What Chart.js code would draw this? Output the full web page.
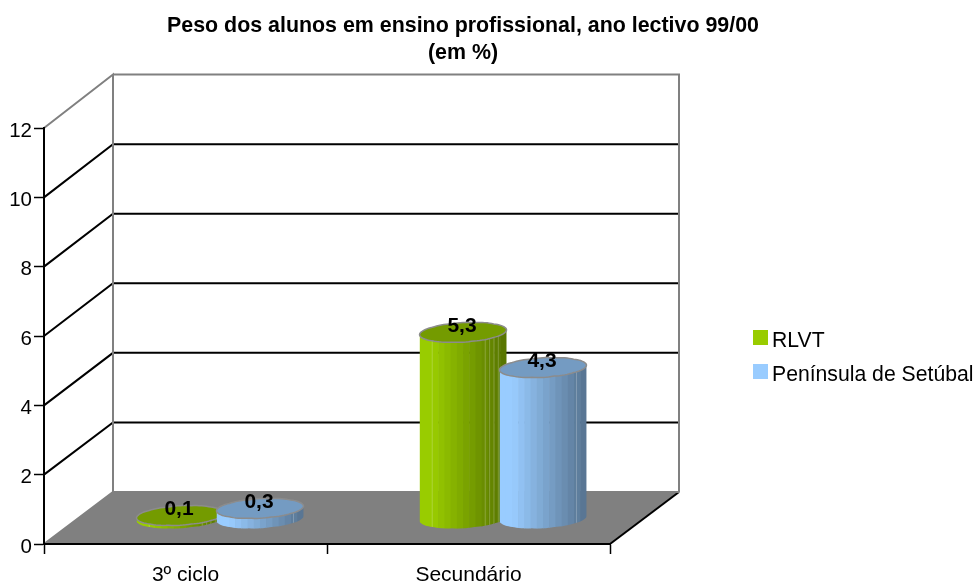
<!DOCTYPE html>
<html lang="pt">
<head>
<meta charset="utf-8">
<title>Peso dos alunos em ensino profissional</title>
<script src="https://cdn.jsdelivr.net/npm/chart.js@4"></script>
<style>
html,body{margin:0;padding:0;background:#fff}
canvas{display:block}
</style>
</head>
<body>
<canvas id="c" width="975" height="584"></canvas>
<script>
const titleLines = ['Peso dos alunos em ensino profissional, ano lectivo 99/00', '(em %)'];
const categories = ['3º ciclo', 'Secundário'];
const seriesNames = ['RLVT', 'Península de Setúbal'];
const rlvt = [0.1, 5.3];
const setubal = [0.3, 4.3];
const valueTicks = [0, 2, 4, 6, 8, 10, 12];
const seriesColors = ['#99cc00', '#99ccff'];
const highlightLines = [[-0.72, 0.5, 0.6, 0.7, 0.8], [0.76]];

const FONT = '"Liberation Sans", Arial, sans-serif';
const DEPTH_X = 69, DEPTH_Y = 52;
const WALL = '#808080';
const TILT = 0.055;

function backY(yScale, v) { return yScale.getPixelForValue(v) - DEPTH_Y - v * 0.12; }

function shade(hex, f) {
  const n = parseInt(hex.slice(1), 16);
  return `rgb(${Math.round((n >> 16 & 255) * f)},${Math.round((n >> 8 & 255) * f)},${Math.round((n & 255) * f)})`;
}

function ring(cx, cy, rx, ry) {
  const pts = [];
  for (let i = 0; i <= 96; i++) {
    const a = Math.PI * 2 * i / 96;
    const w = 1 + 0.035 * Math.abs(Math.cos(a * 6));
    const px = rx * Math.cos(a);
    pts.push([cx + px, cy + ry * Math.sin(a) * w - px * TILT]);
  }
  return pts;
}

function cylinder(ctx, cx, topY, baseY, rx, ry, color, lines) {
  const base = ring(cx, baseY, rx, ry);
  const top = ring(cx, topY, rx, ry);
  ctx.save();
  ctx.beginPath();
  ctx.moveTo(top[0][0], top[0][1]);
  for (let i = 0; i <= 48; i++) ctx.lineTo(base[i][0], base[i][1]);
  ctx.lineTo(top[48][0], top[48][1]);
  ctx.closePath();
  ctx.clip();
  const facets = 14;
  for (let i = 0; i < facets; i++) {
    const x0 = cx - rx + (2 * rx) * i / facets;
    const t = i / (facets - 1);
    const f = t < 0.12 ? 1 : 1 - 0.42 * (t - 0.12) / 0.88;
    ctx.fillStyle = shade(color, f);
    ctx.fillRect(x0, topY - ry - 4, 2 * rx / facets + 0.6, baseY - topY + 2 * ry + 10);
  }
  ctx.strokeStyle = 'rgba(255,255,255,0.22)';
  ctx.lineWidth = 1;
  lines.forEach(k => {
    ctx.beginPath();
    ctx.moveTo(cx + rx * k + 0.5, topY - ry);
    ctx.lineTo(cx + rx * k + 0.5, baseY + ry);
    ctx.stroke();
  });
  ctx.restore();
  ctx.beginPath();
  top.forEach((p, i) => i ? ctx.lineTo(p[0], p[1]) : ctx.moveTo(p[0], p[1]));
  ctx.closePath();
  ctx.fillStyle = shade(color, 0.76);
  ctx.fill();
  ctx.strokeStyle = '#8c8c8c';
  ctx.lineWidth = 1.5;
  ctx.stroke();
}

function barTop(el) { return el.y - DEPTH_Y / 2 + 1 - (el.base - el.y) * 0.016; }

const scene = {
  id: 'scene',
  beforeDraw(chart) {
    const { ctx, scales: { x, y } } = chart;
    const l = x.left, r = x.right, b = y.getPixelForValue(0);
    const top = valueTicks[valueTicks.length - 1];
    const bb = backY(y, 0), bt = backY(y, top), ft = y.getPixelForValue(top);
    ctx.save();
    ctx.fillStyle = WALL;
    ctx.beginPath();
    ctx.moveTo(l, b); ctx.lineTo(r, b); ctx.lineTo(r + DEPTH_X, bb); ctx.lineTo(l + DEPTH_X, bb);
    ctx.closePath(); ctx.fill();
    ctx.lineWidth = 2;
    ctx.strokeStyle = '#000';
    valueTicks.slice(1, -1).forEach(v => {
      ctx.beginPath();
      ctx.moveTo(l, y.getPixelForValue(v));
      ctx.lineTo(l + DEPTH_X, backY(y, v));
      ctx.lineTo(r + DEPTH_X, backY(y, v));
      ctx.stroke();
    });
    ctx.beginPath();
    ctx.moveTo(r, b); ctx.lineTo(r + DEPTH_X, bb);
    ctx.stroke();
    ctx.strokeStyle = WALL;
    ctx.beginPath();
    ctx.moveTo(l, b); ctx.lineTo(l + DEPTH_X, bb);
    ctx.lineTo(r + DEPTH_X, bb);
    ctx.stroke();
    ctx.beginPath();
    ctx.moveTo(l, ft); ctx.lineTo(l + DEPTH_X, bt); ctx.lineTo(l + DEPTH_X, bb);
    ctx.moveTo(l + DEPTH_X, bt); ctx.lineTo(r + DEPTH_X, bt); ctx.lineTo(r + DEPTH_X, bb);
    ctx.stroke();
    ctx.restore();
  },
  beforeDatasetDraw() { return false; },
  afterDatasetsDraw(chart) {
    const ctx = chart.ctx;
    chart.data.datasets.forEach((ds, i) => {
      chart.getDatasetMeta(i).data.forEach(el => {
        cylinder(ctx, el.x + DEPTH_X / 2, barTop(el), el.base - DEPTH_Y / 2 + 1, el.width / 2 + 3.5, 9.5, ds.backgroundColor, highlightLines[i]);
      });
    });
  },
  afterDraw(chart) {
    const ctx = chart.ctx;
    ctx.save();
    ctx.fillStyle = '#000';
    ctx.textAlign = 'center';
    ctx.textBaseline = 'middle';
    ctx.font = 'bold 21px ' + FONT;
    chart.data.datasets.forEach((ds, i) => {
      chart.getDatasetMeta(i).data.forEach((el, j) => {
        const txt = String(ds.data[j]).replace('.', ',');
        ctx.fillText(txt, el.x + DEPTH_X / 2 - 1, barTop(el) - 6);
      });
    });
    ctx.textAlign = 'left';
    ctx.font = '21.2px ' + FONT;
    chart.data.datasets.forEach((ds, i) => {
      const rowY = 330 + i * 34;
      ctx.fillStyle = ds.backgroundColor;
      ctx.fillRect(753, rowY, 15, 15);
      ctx.fillStyle = '#000';
      ctx.fillText(ds.label, 772, rowY + 11);
    });
    ctx.restore();
  }
};

new Chart(document.getElementById('c'), {
  type: 'bar',
  plugins: [scene],
  data: {
    labels: categories,
    datasets: [
      { label: seriesNames[0], data: rlvt, backgroundColor: seriesColors[0], barPercentage: 1, categoryPercentage: 0.565 },
      { label: seriesNames[1], data: setubal, backgroundColor: seriesColors[1], barPercentage: 1, categoryPercentage: 0.565 }
    ]
  },
  options: {
    responsive: false,
    animation: false,
    events: [],
    layout: { autoPadding: false, padding: { left: 0, top: 0, bottom: 0, right: 49 } },
    plugins: {
      legend: { display: false },
      tooltip: { enabled: false },
      title: {
        display: true,
        text: titleLines,
        color: '#000',
        font: { family: FONT, size: 21.4, weight: 'bold', lineHeight: 27 / 21.4 },
        padding: { top: 12.5, bottom: 61.5 }
      }
    },
    scales: {
      x: {
        grid: { drawOnChartArea: false, drawTicks: true, tickLength: 10, tickColor: '#000', tickWidth: 1.5, offset: true },
        border: { color: '#000', width: 2 },
        ticks: { color: '#000', font: { family: FONT, size: 21 }, padding: 9, maxRotation: 0 },
        afterFit(s) { s.height = 40; }
      },
      y: {
        min: 0, max: 12,
        grid: { drawOnChartArea: false, drawTicks: true, tickLength: 10, tickColor: '#000', tickWidth: 1.5 },
        border: { color: '#000', width: 2 },
        ticks: { color: '#000', stepSize: 2, font: { family: FONT, size: 20.5 }, padding: 2, labelOffset: 3 },
        afterFit(s) { s.width = 44; }
      },
      spacer: {
        type: 'linear',
        position: 'right',
        grid: { display: false },
        border: { display: false },
        ticks: { display: false },
        afterFit(s) { s.width = 316; }
      }
    }
  }
});
</script>
</body>
</html>
